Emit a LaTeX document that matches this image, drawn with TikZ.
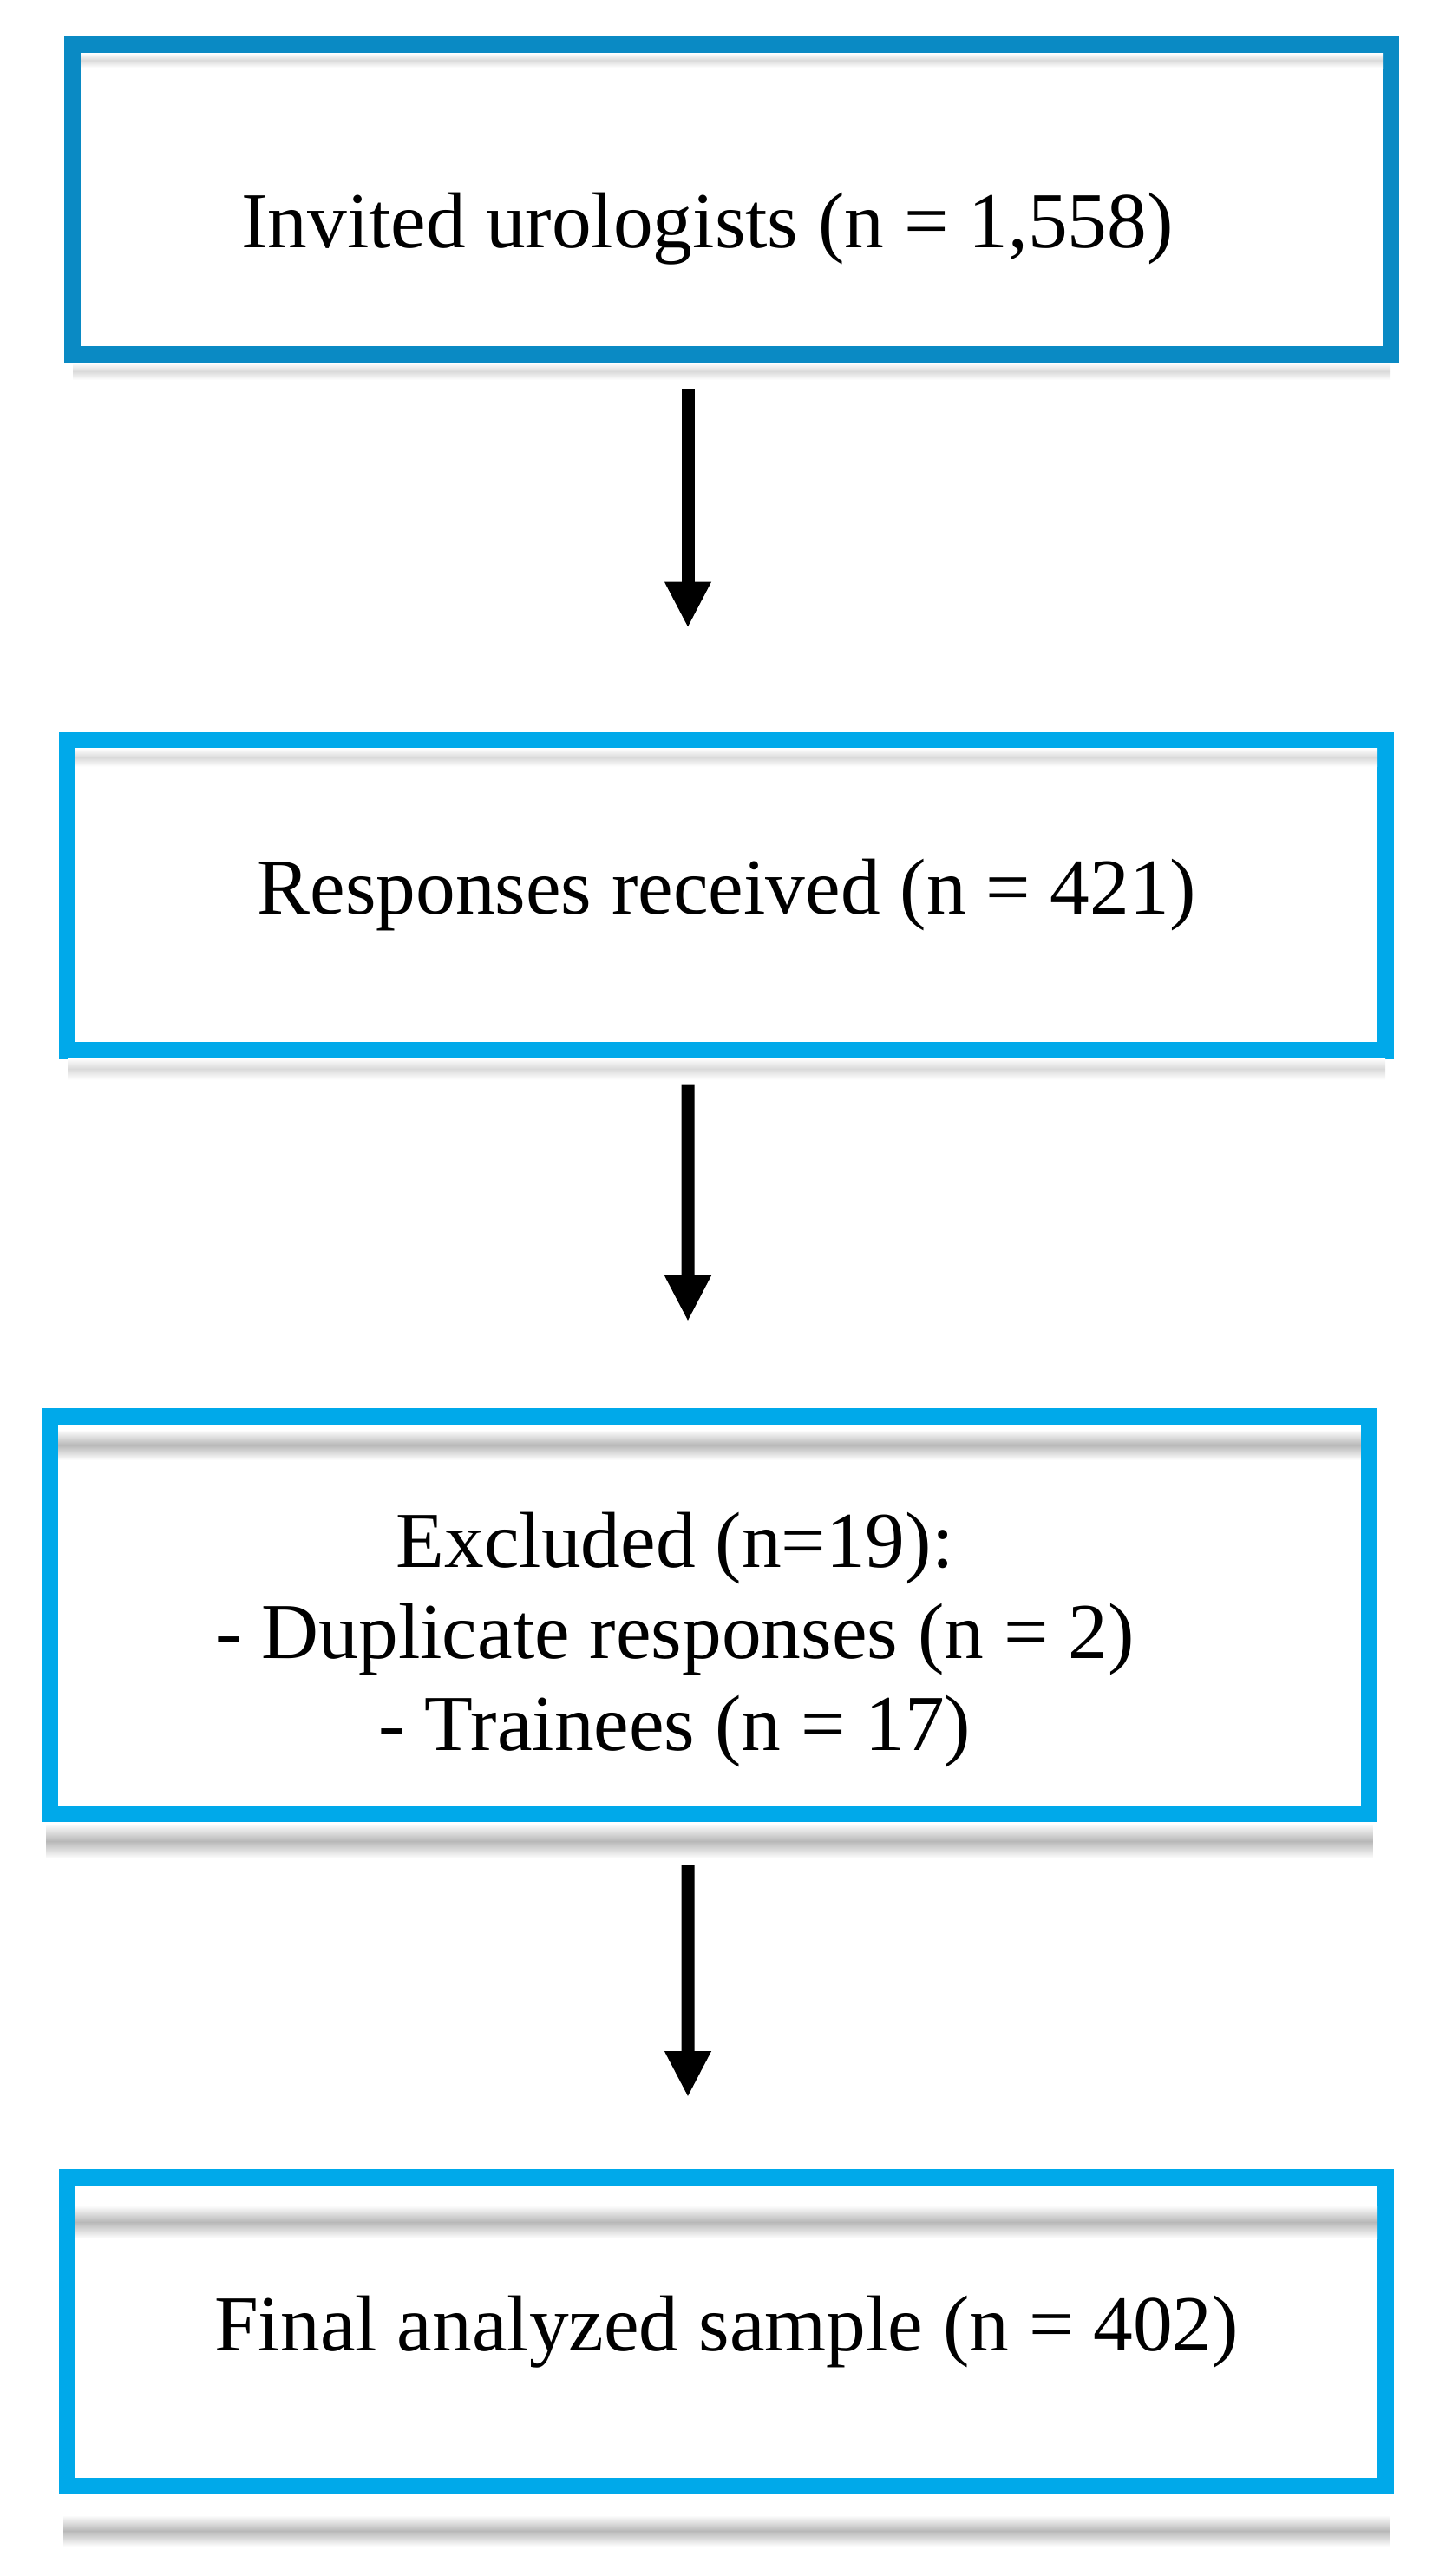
\documentclass[tikz,border=0pt]{standalone}
\usepackage{fontspec}
\setmainfont{Liberation Serif}
\usetikzlibrary{arrows.meta, positioning, shadows}
\definecolor{cdark}{HTML}{0A8AC4}
\definecolor{cbright}{HTML}{00A9EA}
\definecolor{cshade}{HTML}{B8B8B8}
\definecolor{clight}{HTML}{DADADA}
\tikzset{
  every picture/.style={line width=1pt},
  stage/.style={draw=#1, fill=white, line width=0.19cm, inner sep=0pt, align=center,
    minimum width=15.2cm, minimum height=3.57cm, font=\fontsize{26}{30}\selectfont},
  stage/.default=cbright,
  band/.style={top color=white, bottom color=white, middle color=#1},
  band/.default=cshade,
  arr/.style={-{Triangle[length=0.53cm, width=0.5cm]}, line width=0.15cm, draw=black},
}

\begin{document}
\begin{tikzpicture}
  \useasboundingbox (0,0) rectangle (16.52,-29.69);
  % the four stages
  \node[stage=cdark, text height=1.1cm, text depth=0pt] (invited) at (8.435,-2.30)
    {Invited urologists (n = 1,558)\hspace*{0.56cm}};
  \node[stage] (received) at (8.375,-10.315) {Responses received (n = 421)};
  \node[stage, minimum height=4.58cm, text height=0.6cm, text depth=1.7cm] (excluded) at (8.18,-18.615)
    {\begin{tabular}[t]{@{}c@{}}Excluded (n=19):\\- Duplicate responses (n = 2)\\- Trainees (n = 17)\end{tabular}\hspace*{0.8cm}};
  \node[stage, minimum height=3.56cm] (final) at (8.375,-26.875) {Final analyzed sample (n = 402)};
  % shadows inside and below
  \shade[band=clight] ([xshift=.19cm, yshift=-.19cm]invited.north west) rectangle ([xshift=-.19cm, yshift=-.36cm]invited.north east);
  \shade[band=clight] ([xshift=.1cm, yshift=0cm]invited.south west) rectangle ([xshift=-.1cm, yshift=-.2cm]invited.south east);
  \shade[band=clight] ([xshift=.19cm, yshift=-.19cm]received.north west) rectangle ([xshift=-.19cm, yshift=-.4cm]received.north east);
  \shade[band=clight] ([xshift=.1cm, yshift=0cm]received.south west) rectangle ([xshift=-.1cm, yshift=-.25cm]received.south east);
  \shade[band] ([xshift=.19cm, yshift=-.25cm]excluded.north west) rectangle ([xshift=-.19cm, yshift=-.6cm]excluded.north east);
  \shade[band] ([xshift=.05cm, yshift=-.02cm]excluded.south west) rectangle ([xshift=-.05cm, yshift=-.42cm]excluded.south east);
  \shade[band] ([xshift=.19cm, yshift=-.42cm]final.north west) rectangle ([xshift=-.19cm, yshift=-.8cm]final.north east);
  \shade[band] ([xshift=.05cm, yshift=-.24cm]final.south west) rectangle ([xshift=-.05cm, yshift=-.6cm]final.south east);
  % arrows
  \draw[arr, shorten <=0.3cm, shorten >=1.2cm] ([xshift=-0.505cm]invited.south) -- ([xshift=-0.445cm]received.north);
  \draw[arr, shorten <=0.3cm, shorten >=1.0cm] ([xshift=-0.445cm]received.south) -- ([xshift=-0.25cm]excluded.north);
  \draw[arr, shorten <=0.5cm, shorten >=0.83cm] ([xshift=-0.25cm]excluded.south) -- ([xshift=-0.445cm]final.north);
\end{tikzpicture}
\end{document}
